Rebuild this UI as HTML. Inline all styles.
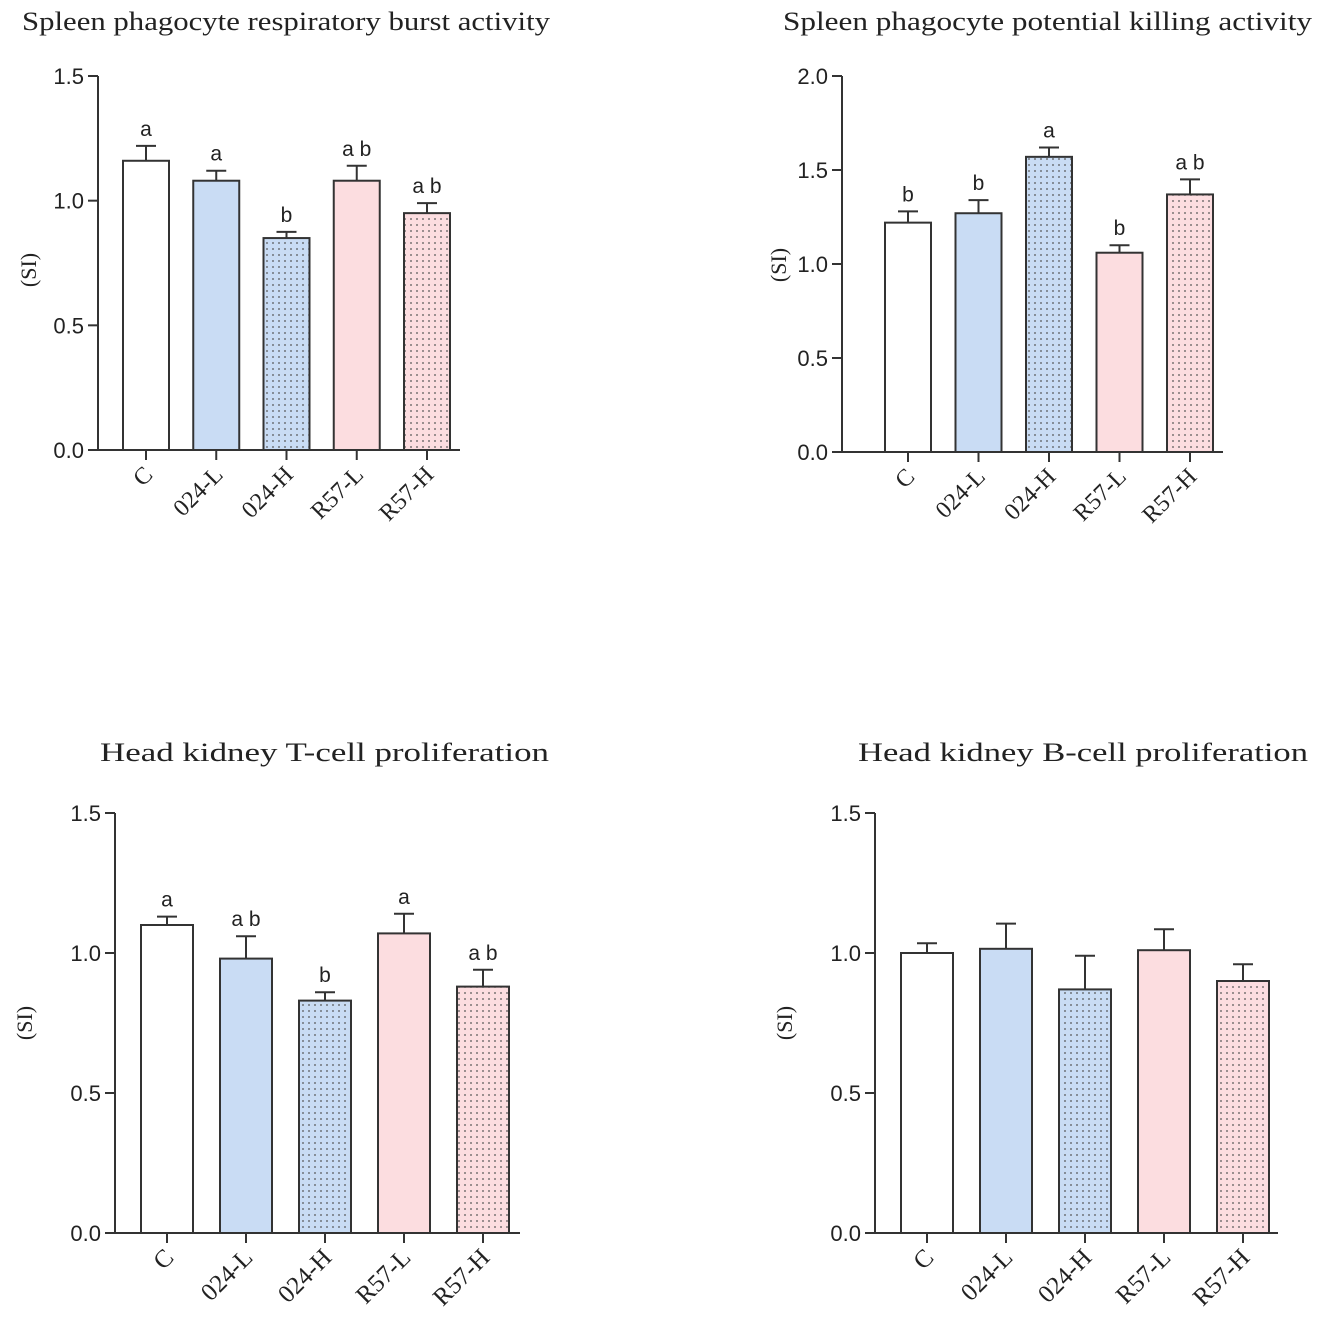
<!DOCTYPE html>
<html><head><meta charset="utf-8">
<style>body{margin:0;background:#fff}svg{display:block}</style></head>
<body>
<svg id="chart" width="1321" height="1333" viewBox="0 0 1321 1333" xmlns="http://www.w3.org/2000/svg">
<defs>
<pattern id="dotBlue" width="6" height="6" patternUnits="userSpaceOnUse"><rect width="6" height="6" fill="#c9dcf4"/><circle cx="3" cy="3" r="0.9" fill="#555"/></pattern>
<pattern id="dotPink" width="6" height="6" patternUnits="userSpaceOnUse"><rect width="6" height="6" fill="#fcdde0"/><circle cx="3" cy="3" r="0.9" fill="#555"/></pattern>
</defs>
</svg>
<script>
const categories = ["C","024-L","024-H","R57-L","R57-H"];
const respMeans = [1.16,1.08,0.85,1.08,0.95];
const respErr = [0.06,0.04,0.025,0.06,0.04];
const respLetters = ["a","a","b","a b","a b"];
const killMeans = [1.22,1.27,1.57,1.06,1.37];
const killErr = [0.06,0.07,0.05,0.04,0.08];
const killLetters = ["b","b","a","b","a b"];
const tcellMeans = [1.10,0.98,0.83,1.07,0.88];
const tcellErr = [0.03,0.08,0.03,0.07,0.06];
const tcellLetters = ["a","a b","b","a","a b"];
const bcellMeans = [1.0,1.015,0.87,1.01,0.90];
const bcellErr = [0.035,0.09,0.12,0.075,0.06];
const bcellLetters = ["","","","",""];
const ticks15 = [0,0.5,1.0,1.5];
const ticks20 = [0,0.5,1.0,1.5,2.0];
const fills = ["#ffffff","#c9dcf4","url(#dotBlue)","#fcdde0","url(#dotPink)"];

const NS="http://www.w3.org/2000/svg";
const svg=document.getElementById('chart');
function mk(tag,attrs,parent,text){const e=document.createElementNS(NS,tag);for(const k in attrs)e.setAttribute(k,attrs[k]);if(text!==undefined)e.textContent=text;(parent||svg).appendChild(e);return e;}

const panels=[
 {name:"respiratory-burst",title:"Spleen phagocyte respiratory burst activity",tx:22,ty:30,tw:528,ax:98,y0:450,yTop:76,max:1.5,ticks:ticks15,first:123,step:70.25,bw:46,right:460,means:respMeans,err:respErr,letters:respLetters,ylx:36,yly:270,fs:24},
 {name:"killing-activity",title:"Spleen phagocyte potential killing activity",tx:783,ty:30,tw:529,ax:842,y0:452,yTop:76,max:2.0,ticks:ticks20,first:885,step:70.5,bw:46,right:1223,means:killMeans,err:killErr,letters:killLetters,ylx:786,yly:265,fs:24},
 {name:"tcell-proliferation",title:"Head kidney T-cell proliferation",tx:100,ty:761,tw:449,ax:115,y0:1233,yTop:813,max:1.5,ticks:ticks15,first:141,step:79,bw:52,right:520,means:tcellMeans,err:tcellErr,letters:tcellLetters,ylx:32,yly:1023,fs:25},
 {name:"bcell-proliferation",title:"Head kidney B-cell proliferation",tx:858,ty:761,tw:450,ax:875,y0:1233,yTop:813,max:1.5,ticks:ticks15,first:901,step:79,bw:52,right:1278,means:bcellMeans,err:bcellErr,letters:bcellLetters,ylx:792,yly:1023,fs:25}
];

panels.forEach(p=>{
 const g=mk('g',{});
 
 
 const ys=v=>p.y0-(v/p.max)*(p.y0-p.yTop);
 const t=mk('text',{x:p.tx,y:p.ty,'font-family':'"Liberation Serif",serif','font-size':26,fill:'#222',textLength:p.tw,lengthAdjust:'spacingAndGlyphs'},g,p.title);
 
 
 const yl=mk('text',{x:p.ylx,y:p.yly,'font-family':'"Liberation Serif",serif','font-size':22,fill:'#222','text-anchor':'middle',transform:`rotate(-90 ${p.ylx} ${p.yly})`},g,'(SI)');
 
 
 categories.forEach((c,i)=>{
  const x=p.first+i*p.step, cx=x+p.bw/2;
  const top=ys(p.means[i]), et=ys(p.means[i]+p.err[i]);
  const eb=mk('line',{x1:cx,x2:cx,y1:top,y2:et,stroke:'#333','stroke-width':2},g);
  
  
  const cap=mk('line',{x1:cx-10,x2:cx+10,y1:et,y2:et,stroke:'#333','stroke-width':2},g);
  
  
  const r=mk('rect',{x:x,y:top,width:p.bw,height:p.y0-top,fill:fills[i],stroke:'#333','stroke-width':2},g);
  
  
  if(p.letters[i]){
   const lt=mk('text',{x:cx,y:et-10,'font-family':'"Liberation Sans",sans-serif','font-size':21,fill:'#222','text-anchor':'middle'},g,p.letters[i]);
   
   
  }
  const tk=mk('line',{x1:cx,x2:cx,y1:p.y0,y2:p.y0+10,stroke:'#333','stroke-width':2},g);
  
  
  const lx=cx+8, ly=p.y0+26;
  const cl=mk('text',{x:lx,y:ly,'font-family':'"Liberation Serif",serif','font-size':p.fs,fill:'#222','text-anchor':'end',transform:`rotate(-45 ${lx} ${ly})`},g,c);
  
  
 });
 const ya=mk('line',{x1:p.ax,x2:p.ax,y1:p.yTop,y2:p.y0+1,stroke:'#333','stroke-width':2},g);
 
 
 const xa=mk('line',{x1:p.ax-1,x2:p.right,y1:p.y0,y2:p.y0,stroke:'#333','stroke-width':2},g);
 
 
 p.ticks.forEach(v=>{
  const y=ys(v);
  const tk=mk('line',{x1:p.ax-10,x2:p.ax,y1:y,y2:y,stroke:'#333','stroke-width':2},g);
  
  
  const tl=mk('text',{x:p.ax-14,y:y+8,'font-family':'"Liberation Sans",sans-serif','font-size':22,fill:'#222','text-anchor':'end'},g,v.toFixed(1));
  
  
 });
});
</script>
</body></html>
